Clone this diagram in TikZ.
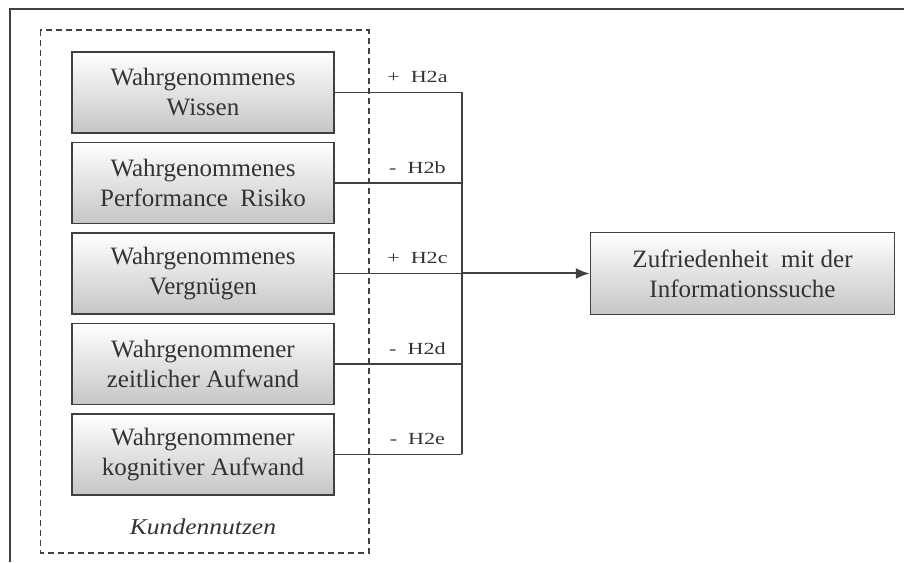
\documentclass[tikz,border=0pt]{standalone}
\usepackage{fontspec}
\setmainfont{Liberation Serif}
\usetikzlibrary{positioning,calc,arrows.meta}
\tikzset{
    factor/.style={draw=black!75, line width=1.5pt, top color=white, bottom color=gray!45,
        minimum width=262pt, minimum height=81pt, align=center, text=black!80,
        font=\fontsize{25}{30}\selectfont},
    hyp/.style={above, inner sep=0pt, yshift=9pt, text=black!80,
        font=\fontsize{17}{20}\selectfont\addfontfeature{FakeStretch=1.3}},
    link/.style={draw=black!75, line width=1.5pt}
}
\begin{document}
\begin{tikzpicture}[x=1pt, y=1pt]
        \useasboundingbox (0,0) rectangle (904,562);
        % frame
        \draw[black!75, line width=2pt] (10,0) -- (10,553) -- (904,553);
        % factors
        \node[factor] (w1) at (203,469.5) {Wahrgenommenes\\Wissen};
        \node[factor, below=8pt of w1] (w2) {Wahrgenommenes\\Performance\ \ Risiko};
        \node[factor, below=8pt of w2] (w3) {Wahrgenommenes\\Vergnügen};
        \node[factor, below=8pt of w3] (w4) {Wahrgenommener\\zeitlicher Aufwand};
        \node[factor, below=8pt of w4] (w5) {Wahrgenommener\\kognitiver Aufwand};
        \node[below=23pt of w5, inner sep=0pt, text=black!80,
            font=\fontsize{22.6}{26}\selectfont\itshape\addfontfeature{FakeStretch=1.13}] (kn) {Kundennutzen};
        % group
        \draw[black!75, line width=1.5pt, dash pattern=on 6pt off 4pt]
            ($(w1.north west)+(-31,21)$) rectangle ($(w5.south east)+(34,-57)$);
        % target
        \node[factor, minimum width=304pt, minimum height=82pt, right=255pt of w3] (zi)
            {Zufriedenheit\ \ mit der\\Informationssuche};
        % junction
        \coordinate (j) at (462,0);
        \draw[link] (w1.east) -- (w1.east -| j) node[hyp, pos=.65] {+~~H2a};
        \draw[link] (w2.east) -- (w2.east -| j) node[hyp, pos=.65] {-~~H2b};
        \draw[link] (w3.east) -- (w3.east -| j) node[hyp, pos=.65] {+~~H2c};
        \draw[link] (w4.east) -- (w4.east -| j) node[hyp, pos=.65] {-~~H2d};
        \draw[link] (w5.east) -- (w5.east -| j) node[hyp, pos=.65] {-~~H2e};
        \draw[link] (w1.east -| j) -- (w5.east -| j);
        \draw[link, line width=2pt, -{Latex[length=14pt, width=11pt]}] (w3.east -| j) -- (zi.west);
    \end{tikzpicture}
\end{document}
